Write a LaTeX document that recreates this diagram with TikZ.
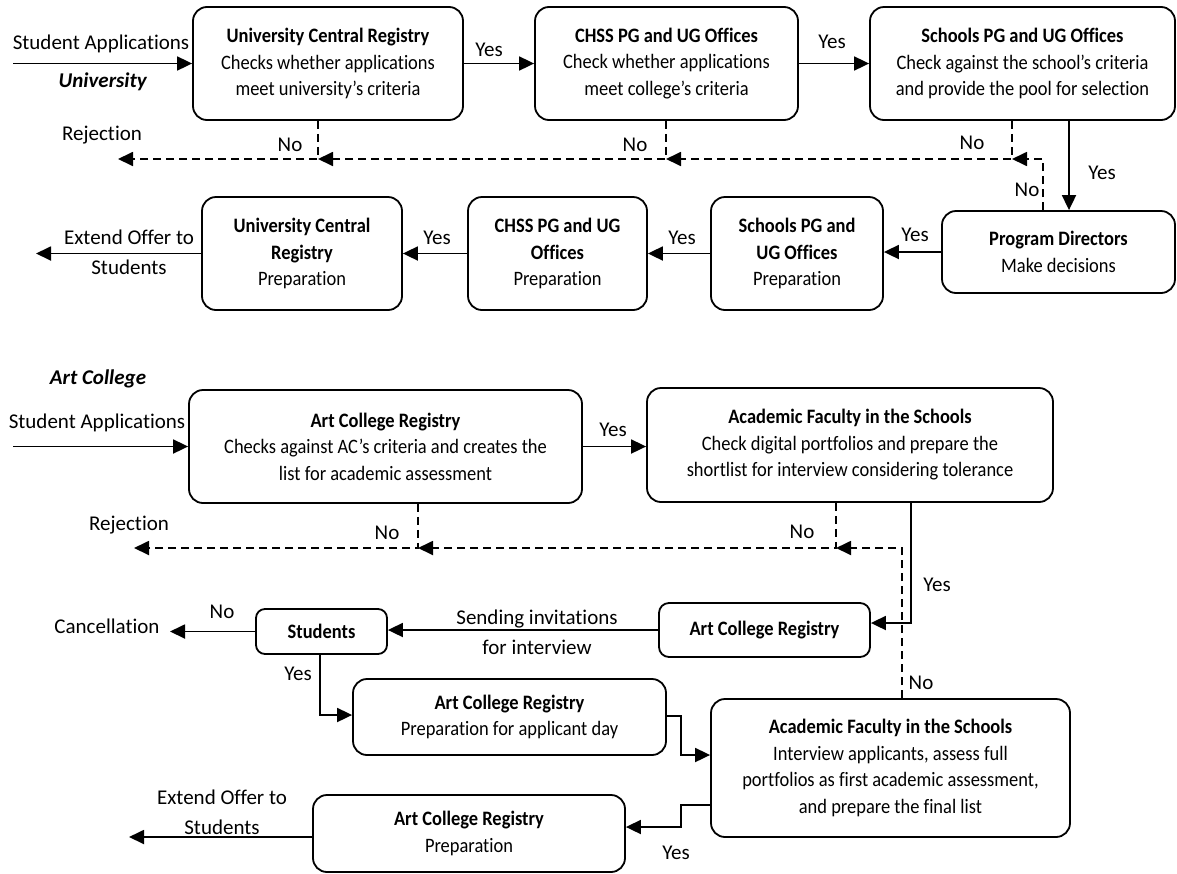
\documentclass[tikz,border=0pt]{standalone}
\usepackage{fontspec}
\setmainfont{Carlito}[RawFeature={-liga;-clig;-calt;-dlig}]
\newfontfamily\boxfont{Carlito}[FakeStretch=0.9,RawFeature={-liga;-clig;-calt;-dlig}]
\usetikzlibrary{arrows.meta}

\begin{document}
\begin{tikzpicture}[x=1pt,y=-1pt,
  box/.style={draw, line width=1.8pt, rounded corners=14pt, align=center, inner sep=0pt,
    font=\boxfont\fontsize{20.5}{26.5}\selectfont},
  lbl/.style={align=center, inner sep=0pt, font=\fontsize{21}{30}\selectfont},
  arr/.style={line width=1.8pt, -{Triangle[length=15pt,width=14pt]}},
  dsh/.style={arr, dash pattern=on 8pt off 5pt}]
  \useasboundingbox (0,0) rectangle (1177,873);

  % --- university: first row ---
  \node[box, minimum width=270pt, minimum height=113pt] (u1) at (328,63.5)
    {\textbf{University Central Registry}\\Checks whether applications\\meet university’s criteria};
  \node[box, minimum width=263pt, minimum height=113pt] (u2) at (666.5,63.5)
    {\textbf{CHSS PG and UG Offices}\\Check whether applications\\meet college’s criteria};
  \node[box, minimum width=305pt, minimum height=113pt] (u3) at (1022.5,63.5)
    {\textbf{Schools PG and UG Offices}\\Check against the school’s criteria\\and provide the pool for selection};

  % --- university: second row ---
  \node[box, minimum width=233pt, minimum height=82pt] (pd) at (1058.5,252)
    {\textbf{Program Directors}\\Make decisions};
  \node[box, minimum width=172pt, minimum height=113pt] (sl) at (797,253.5)
    {\textbf{Schools PG and}\\\textbf{UG Offices}\\Preparation};
  \node[box, minimum width=179pt, minimum height=113pt] (cl) at (557.5,253.5)
    {\textbf{CHSS PG and UG}\\\textbf{Offices}\\Preparation};
  \node[box, minimum width=200pt, minimum height=113pt] (ul) at (302,253.5)
    {\textbf{University Central}\\\textbf{Registry}\\Preparation};

  % --- university: labels ---
  \node[lbl] (tsa) at (101,44) {Student Applications};
  \node[lbl] (tuni) at (103,82) {\textbf{\textit{University}}};
  \node[lbl] (trej) at (102,135) {Rejection};
  \node[lbl] (text) at (129,252.5) {Extend Offer to\\Students};

  % --- university: connectors ---
  \coordinate (inu) at (13,63.5);
  \coordinate (extu) at (36,253.5);
  \coordinate (rej) at (118,159);
  \coordinate (j1) at (318,159);
  \coordinate (j2) at (666,159);
  \coordinate (j3) at (1012,159);
  \coordinate (j4) at (1043,159);
  \coordinate (y3) at (1069,120);
  \draw[arr] (inu) -- (u1.west);
  \draw[arr] (u1.east) -- (u2.west);
  \draw[arr] (u2.east) -- (u3.west);
  \draw[arr] (y3 |- u3.south) -- (y3 |- pd.north);
  \draw[arr] (pd.west) -- (pd.west -| sl.east);
  \draw[arr] (sl.west) -- (cl.east);
  \draw[arr] (cl.west) -- (ul.east);
  \draw[arr] (ul.west) -- (extu);
  \draw[dsh] (j1 |- u1.south) -- (j1) -- (rej);
  \draw[dsh] (j2 |- u2.south) -- (j2) -- (j1);
  \draw[dsh] (j3 |- u3.south) -- (j3) -- (j2);
  \draw[dsh] (j4 |- pd.north) -- (j4) -- (j3);

  % --- art college: boxes ---
  \node[box, minimum width=393pt, minimum height=113pt] (acr) at (385.5,446.5)
    {\textbf{Art College Registry}\\Checks against AC’s criteria and creates the\\list for academic assessment};
  \node[box, minimum width=406pt, minimum height=114pt] (afs) at (850,445)
    {\textbf{Academic Faculty in the Schools}\\Check digital portfolios and prepare the\\shortlist for interview considering tolerance};
  \node[box, rounded corners=10pt, minimum width=211pt, minimum height=54pt] (acm) at (764.5,630)
    {\textbf{Art College Registry}};
  \node[box, rounded corners=9pt, minimum width=131pt, minimum height=45pt] (stu) at (321.5,631.5)
    {\textbf{Students}};
  \node[box, minimum width=313pt, minimum height=76pt] (acp) at (509.5,717)
    {\textbf{Art College Registry}\\Preparation for applicant day};
  \node[box, minimum width=359pt, minimum height=138pt] (afi) at (890.5,768)
    {\textbf{Academic Faculty in the Schools}\\Interview applicants, assess full\\portfolios as first academic assessment,\\and prepare the final list};
  \node[box, minimum width=312pt, minimum height=77pt] (acf) at (469,833.5)
    {\textbf{Art College Registry}\\Preparation};

  % --- art college: labels ---
  \node[lbl] (tac) at (98,379) {\textbf{\textit{Art College}}};
  \node[lbl] (tsa2) at (97,423) {Student Applications};
  \node[lbl] (trej2) at (129,525) {Rejection};
  \node[lbl] (tcan) at (107,626) {Cancellation};
  \node[lbl] (tinv) at (537,632) {Sending invitations\\for interview};
  \node[lbl] (text2) at (222,812.5) {Extend Offer to\\Students};

  % --- art college: connectors ---
  \coordinate (ina) at (13,446.5);
  \coordinate (rej2) at (134,548);
  \coordinate (can) at (170,631.5);
  \coordinate (exta) at (129,837);
  \coordinate (k1) at (418,548);
  \coordinate (k2) at (836,548);
  \coordinate (k3) at (902,548);
  \coordinate (k4) at (911,623);
  \coordinate (k5) at (320,715);
  \coordinate (k6) at (681,716);
  \coordinate (k7) at (681,755);
  \coordinate (k8) at (681,805);
  \coordinate (k9) at (681,827);
  \draw[arr] (ina) -- (acr.west);
  \draw[arr] (acr.east) -- (acr.east -| afs.west);
  \draw[dsh] (k1 |- acr.south) -- (k1) -- (rej2);
  \draw[dsh] (k2 |- afs.south) -- (k2) -- (k1);
  \draw[dsh] (k3 |- afi.north) -- (k3) -- (k2);
  \draw[arr] (k4 |- afs.south) -- (k4) -- (k4 -| acm.east);
  \draw[arr] (acm.west) -- (acm.west -| stu.east);
  \draw[arr] (stu.west) -- (can);
  \draw[arr] (k5 |- stu.south) -- (k5) -- (k5 -| acp.west);
  \draw[arr] (k6 -| acp.east) -- (k6) -- (k7) -- (k7 -| afi.west);
  \draw[arr] (k8 -| afi.west) -- (k8) -- (k9) -- (k9 -| acf.east);
  \draw[arr] (exta -| acf.west) -- (exta);

  % --- yes / no labels ---
  \foreach \p [count=\i] in {(489,50),(832,42),(1102,173),(915,235),(682,238),
      (437,238),(613,430),(937,585),(298,674),(676,853)} {
    \node[lbl] (yes\i) at \p {Yes};
  }
  \foreach \p [count=\i] in {(290,145),(635,145),(972,143),(1027,190),
      (387,533),(802,532),(921,683),(222,612)} {
    \node[lbl] (no\i) at \p {No};
  }
\end{tikzpicture}
\end{document}
